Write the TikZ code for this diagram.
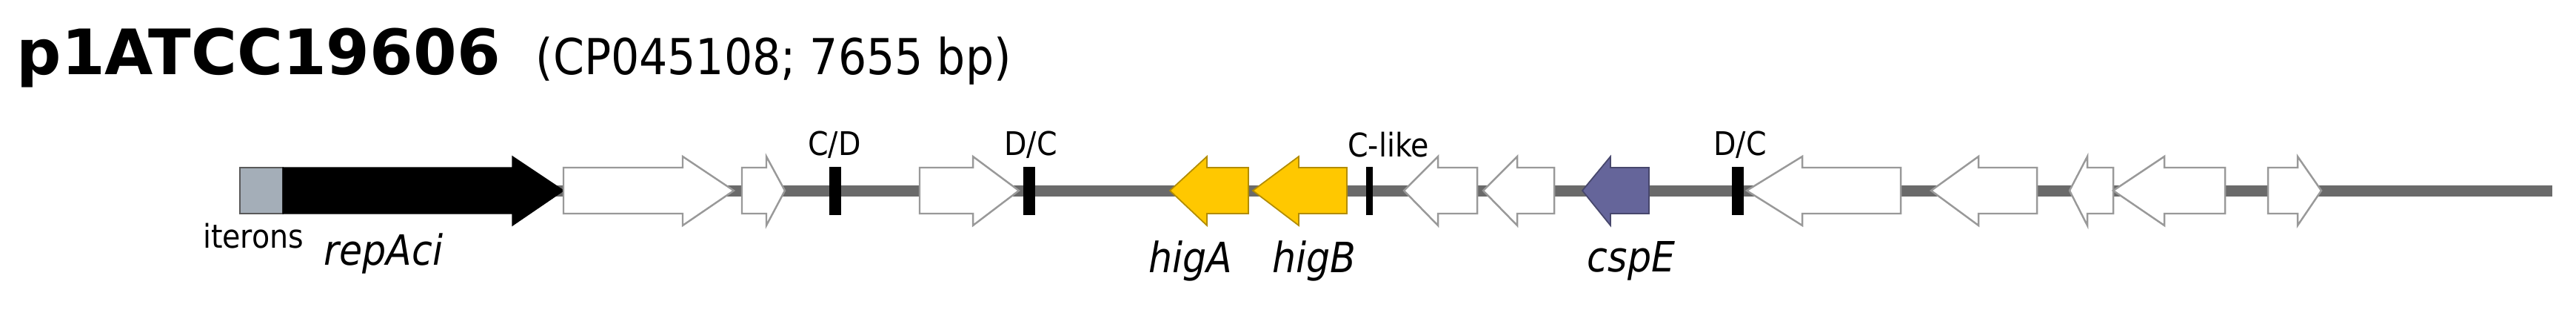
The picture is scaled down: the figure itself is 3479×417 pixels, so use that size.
\documentclass[tikz,border=0pt]{standalone}
\usepackage{fontspec}
\setmainfont{DejaVu Sans}
\newfontfamily\cond{DejaVu Sans Condensed}
\definecolor{itc}{HTML}{A4AEB8}
\definecolor{yel}{HTML}{FFC800}
\definecolor{pur}{HTML}{65659A}
\definecolor{bb}{HTML}{6A6A6A}
% right gene: tail, headstart, tip ; left gene: tip, headstart, tail
\newcommand\rgn[4]{\draw[#4] (#1,226) -- (#2,226) -- (#2,211) -- (#3,257) -- (#2,304) -- (#2,288) -- (#1,288) -- cycle;}
\newcommand\lgn[4]{\draw[#4] (#3,226) -- (#2,226) -- (#2,211) -- (#1,257) -- (#2,304) -- (#2,288) -- (#3,288) -- cycle;}
\tikzset{
  wg/.style={fill=white,draw=gray!80,line width=0.7pt},
  yg/.style={fill=yel,draw=yel!70!black,line width=0.5pt},
  mk/.style={fill=black,draw=none},
  lab/.style={font=\cond\fontsize{12.5}{14}\selectfont,inner sep=0},
  gl/.style={font=\cond\itshape\fontsize{16}{18}\selectfont,inner sep=0},
}
\begin{document}
\begin{tikzpicture}[x=0.01cm,y=-0.01cm]
\useasboundingbox (0,0) rectangle (3479,417);
\node[anchor=base west,inner sep=0,font=\bfseries\fontsize{24}{28}\selectfont] (title) at (22,100) {p1ATCC19606};
\node[anchor=base west,inner sep=0,font=\cond\fontsize{19}{22}\selectfont] (sub) at (723,100) {(CP045108; 7655 bp)};
% backbone
\fill[bb] (324,250) rectangle (3447,265);
% iterons + repAci
\draw[fill=itc,draw=gray!70!black,line width=0.5pt] (324,226) rectangle (382,288);
\rgn{382}{692}{761}{fill=black,draw=black}
\rgn{761}{922}{991}{wg}
\rgn{1002}{1035}{1060}{wg}
\rgn{1242}{1314}{1376}{wg}
\lgn{1580}{1630}{1686}{yg}
\lgn{1692}{1754}{1819}{yg}
\lgn{1896}{1942}{1995}{wg}
\lgn{2003}{2049}{2099}{wg}
\lgn{2137}{2175}{2227}{fill=pur,draw=pur!70!black,line width=0.5pt}
\lgn{2359}{2434}{2567}{wg}
\lgn{2608}{2672}{2751}{wg}
\lgn{2795}{2819}{2854}{wg}
\lgn{2854}{2923}{3005}{wg}
\rgn{3063}{3103}{3135}{wg}
% markers
\fill (1120,225) rectangle (1136,290);
\fill (1382,225) rectangle (1398,290);
\fill (1845,225) rectangle (1854,290);
\fill (2339,225) rectangle (2355,290);
% labels
\node[lab] (l1) at (1127,195) {C/D};
\node[lab] (l2) at (1392,195) {D/C};
\node[lab] (l3) at (1875,195) {C-like};
\node[lab] (l4) at (2350,195) {D/C};
\node[lab] (it) at (342,318) {iterons};
\node[gl] (rep) at (518,342) {repAci};
\node[gl] (ha) at (1608,352) {higA};
\node[gl] (hb) at (1775,352) {higB};
\node[gl] (cs) at (2203,352) {cspE};
\end{tikzpicture}
\end{document}
